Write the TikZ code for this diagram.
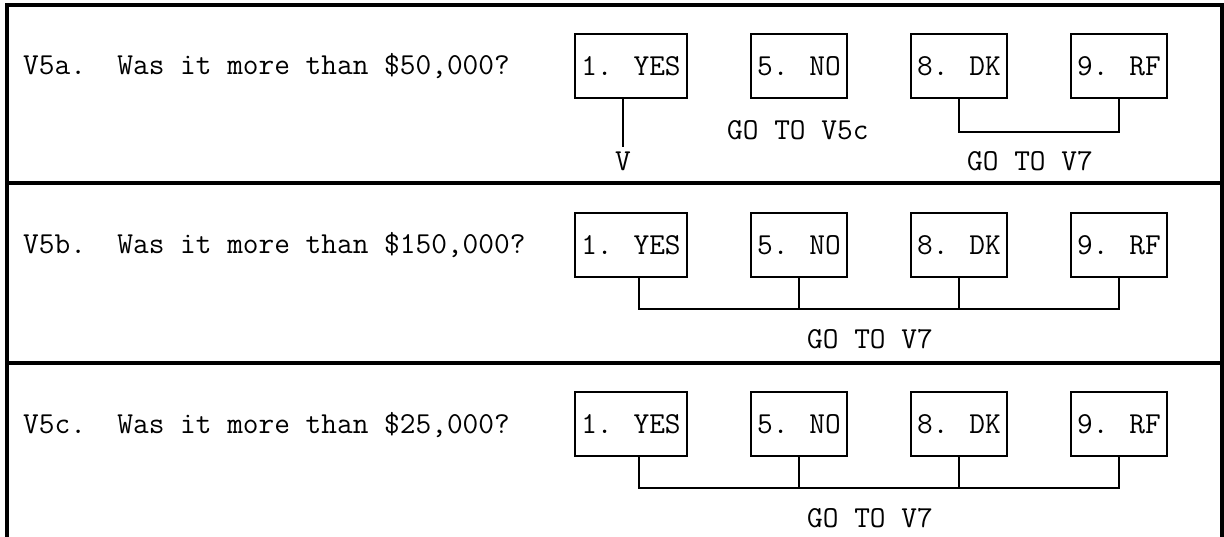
\documentclass[tikz,border=0pt]{standalone}
\usepackage{fontspec}
\begin{document}
\begin{tikzpicture}[x=1pt,y=-1pt,
  every node/.style={font=\ttfamily\fontsize{30.48}{36}\selectfont, inner sep=0pt},
  frame/.style={line width=3.1pt},
  choice/.style={draw, line width=1.8pt, minimum height=64pt, minimum width=96pt},
  widechoice/.style={choice, minimum width=112pt},
  link/.style={line width=1.7pt},
  lbl/.style={anchor=base west}]
\useasboundingbox (0,0) rectangle (1224,537);
% table frame
\draw[frame] (7,537) -- (7,5) -- (1222,5) -- (1222,537);
\draw[frame] (7,183) -- (1222,183);
\draw[frame] (7,363) -- (1222,363);

% ---------- row 1 ----------
\node[lbl] (q1) at (23,75) {V5a.\ \ Was it more than \$50,000?};
\node[widechoice] (a1) at (631,66) {1. YES};
\node[choice] (a2) at (799,66) {5. NO};
\node[choice] (a3) at (959,66) {8. DK};
\node[choice] (a4) at (1119,66) {9. RF};
\node[anchor=base] (v1) at (623,171) {V};
\node[lbl] (g1) at (727,140) {GO TO V5c};
\node[lbl] (g2) at (967,171) {GO TO V7};
\draw[link] ([xshift=-8pt]a1.south) -- ++(0,48);
\draw[link] (a3.south) -- ++(0,33) -| (a4.south);

% ---------- row 2 ----------
\node[lbl] (q2) at (23,254) {V5b.\ \ Was it more than \$150,000?};
\node[widechoice] (b1) at (631,245) {1. YES};
\node[choice] (b2) at (799,245) {5. NO};
\node[choice] (b3) at (959,245) {8. DK};
\node[choice] (b4) at (1119,245) {9. RF};
\node[lbl] (g3) at (807,348.5) {GO TO V7};
\draw[link] ([xshift=8pt]b1.south) -- ++(0,31) -| (b4.south);
\draw[link] (b2.south) -- ++(0,31);
\draw[link] (b3.south) -- ++(0,31);

% ---------- row 3 ----------
\node[lbl] (q3) at (23,433) {V5c.\ \ Was it more than \$25,000?};
\node[widechoice] (c1) at (631,424) {1. YES};
\node[choice] (c2) at (799,424) {5. NO};
\node[choice] (c3) at (959,424) {8. DK};
\node[choice] (c4) at (1119,424) {9. RF};
\node[lbl] (g4) at (807,527.5) {GO TO V7};
\draw[link] ([xshift=8pt]c1.south) -- ++(0,31) -| (c4.south);
\draw[link] (c2.south) -- ++(0,31);
\draw[link] (c3.south) -- ++(0,31);
\end{tikzpicture}
\end{document}
